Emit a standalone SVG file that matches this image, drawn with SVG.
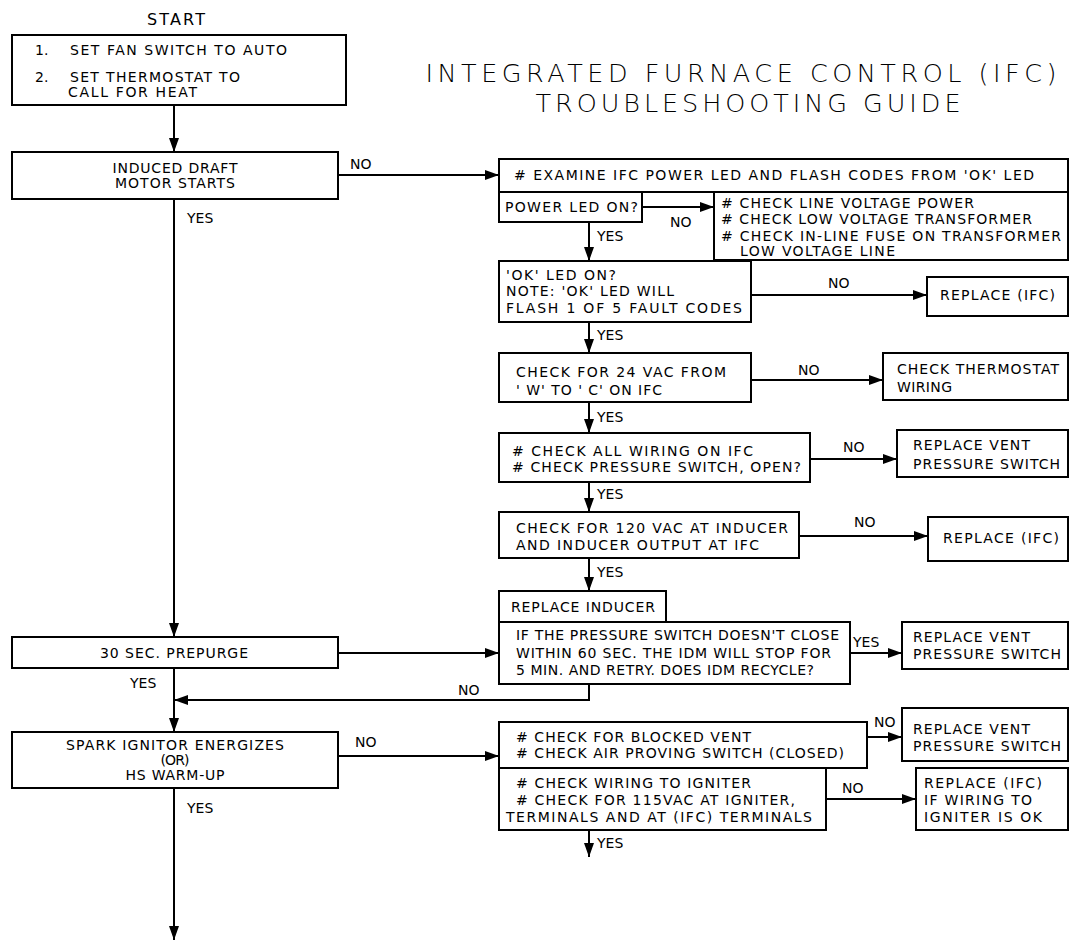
<svg xmlns="http://www.w3.org/2000/svg" width="1074" height="942" viewBox="0 0 1074 942">
<style>
rect.b{fill:#fff;stroke:#000;stroke-width:2}
.c{fill:none;stroke:#000;stroke-width:2}
text{font-family:"DejaVu Sans","Liberation Sans",sans-serif;font-size:14px;fill:#000}
text.m{text-anchor:middle}
text.t{font-size:25.5px;font-weight:200;text-anchor:middle}
text.s{font-size:16px}
</style>
<defs>
<marker id="ah" markerUnits="userSpaceOnUse" markerWidth="14" markerHeight="10" refX="14" refY="5" orient="auto">
<path d="M0,0 L14,5 L0,10 Z" fill="#000"/>
</marker>
</defs>
<rect width="1074" height="942" fill="#fff"/>
<g id="title">
<text class="t" x="741" y="82" textLength="631" lengthAdjust="spacing">INTEGRATED FURNACE CONTROL (IFC)</text>
<text class="t" x="748" y="112" textLength="425" lengthAdjust="spacing">TROUBLESHOOTING GUIDE</text>
</g>
<g id="connectors">
<path class="c" d="M174,106 V152" marker-end="url(#ah)"/>
<path class="c" d="M338,175 H499" marker-end="url(#ah)"/>
<path class="c" d="M174,199 V637" marker-end="url(#ah)"/>
<path class="c" d="M642,207 H714" marker-end="url(#ah)"/>
<path class="c" d="M589,222 V261" marker-end="url(#ah)"/>
<path class="c" d="M751,295 H927" marker-end="url(#ah)"/>
<path class="c" d="M589,322 V353" marker-end="url(#ah)"/>
<path class="c" d="M751,380 H883" marker-end="url(#ah)"/>
<path class="c" d="M589,402 V433" marker-end="url(#ah)"/>
<path class="c" d="M810,459 H897" marker-end="url(#ah)"/>
<path class="c" d="M589,482 V512" marker-end="url(#ah)"/>
<path class="c" d="M799,536 H928" marker-end="url(#ah)"/>
<path class="c" d="M589,558 V591" marker-end="url(#ah)"/>
<path class="c" d="M338,653 H499" marker-end="url(#ah)"/>
<path class="c" d="M850,653 H902" marker-end="url(#ah)"/>
<path class="c" d="M589,684 V700 H174" marker-end="url(#ah)"/>
<path class="c" d="M174,668 V732" marker-end="url(#ah)"/>
<path class="c" d="M338,756 H499" marker-end="url(#ah)"/>
<path class="c" d="M867,737 H902" marker-end="url(#ah)"/>
<path class="c" d="M826,799 H916" marker-end="url(#ah)"/>
<path class="c" d="M589,830 V857" marker-end="url(#ah)"/>
<path class="c" d="M174,788 V940" marker-end="url(#ah)"/>
<text x="350" y="169">NO</text>
<text x="187" y="223">YES</text>
<text x="670" y="227">NO</text>
<text x="597" y="241">YES</text>
<text x="828" y="288">NO</text>
<text x="597" y="340">YES</text>
<text x="798" y="375">NO</text>
<text x="597" y="422">YES</text>
<text x="843" y="452">NO</text>
<text x="597" y="499">YES</text>
<text x="854" y="527">NO</text>
<text x="597" y="577">YES</text>
<text x="853" y="647">YES</text>
<text x="130" y="688">YES</text>
<text x="458" y="695">NO</text>
<text x="355" y="747">NO</text>
<text x="874" y="727">NO</text>
<text x="842" y="793">NO</text>
<text x="187" y="813">YES</text>
<text x="597" y="848">YES</text>
</g>
<g id="start">
<text class="s m" x="176" y="25" textLength="58" lengthAdjust="spacing">START</text>
</g>
<g id="setup">
<rect class="b" x="12" y="35" width="334" height="70"/>
<text x="35" y="55">1.</text>
<text x="70" y="55" textLength="217" lengthAdjust="spacing">SET FAN SWITCH TO AUTO</text>
<text x="35" y="82">2.</text>
<text x="70" y="82" textLength="170" lengthAdjust="spacing">SET THERMOSTAT TO</text>
<text x="68" y="97" textLength="129" lengthAdjust="spacing">CALL FOR HEAT</text>
</g>
<g id="idm">
<rect class="b" x="12" y="152" width="326" height="47"/>
<text class="m" x="175" y="173" textLength="125" lengthAdjust="spacing">INDUCED DRAFT</text>
<text class="m" x="175" y="188" textLength="120" lengthAdjust="spacing">MOTOR STARTS</text>
</g>
<g id="examine">
<rect class="b" x="499" y="159" width="569" height="33"/>
<text x="514" y="180" textLength="520" lengthAdjust="spacing"># EXAMINE IFC POWER LED AND FLASH CODES FROM 'OK' LED</text>
</g>
<g id="powerled">
<rect class="b" x="499" y="192" width="143" height="30"/>
<text x="505" y="212" textLength="133" lengthAdjust="spacing">POWER LED ON?</text>
</g>
<g id="checkline">
<rect class="b" x="714" y="192" width="354" height="68"/>
<text x="721" y="208" textLength="253" lengthAdjust="spacing"># CHECK LINE VOLTAGE POWER</text>
<text x="721" y="224" textLength="311" lengthAdjust="spacing"># CHECK LOW VOLTAGE TRANSFORMER</text>
<text x="721" y="241" textLength="340" lengthAdjust="spacing"># CHECK IN-LINE FUSE ON TRANSFORMER</text>
<text x="740" y="256" textLength="155" lengthAdjust="spacing">LOW VOLTAGE LINE</text>
</g>
<g id="okled">
<rect class="b" x="499" y="261" width="252" height="61"/>
<text x="506" y="280" textLength="110" lengthAdjust="spacing">'OK' LED ON?</text>
<text x="506" y="296" textLength="168" lengthAdjust="spacing">NOTE: 'OK' LED WILL</text>
<text x="506" y="313" textLength="236" lengthAdjust="spacing">FLASH 1 OF 5 FAULT CODES</text>
</g>
<g id="replace1">
<rect class="b" x="927" y="277" width="141" height="39"/>
<text x="940" y="300" textLength="115" lengthAdjust="spacing">REPLACE (IFC)</text>
</g>
<g id="vac24">
<rect class="b" x="499" y="353" width="252" height="49"/>
<text x="516" y="377" textLength="210" lengthAdjust="spacing">CHECK FOR 24 VAC FROM</text>
<text x="516" y="395" textLength="146" lengthAdjust="spacing">' W' TO ' C' ON IFC</text>
</g>
<g id="tstat">
<rect class="b" x="883" y="353" width="185" height="47"/>
<text x="897" y="374" textLength="162" lengthAdjust="spacing">CHECK THERMOSTAT</text>
<text x="897" y="392" textLength="55" lengthAdjust="spacing">WIRING</text>
</g>
<g id="wiring">
<rect class="b" x="499" y="433" width="311" height="49"/>
<text x="512" y="456" textLength="241" lengthAdjust="spacing"># CHECK ALL WIRING ON IFC</text>
<text x="512" y="472" textLength="289" lengthAdjust="spacing"># CHECK PRESSURE SWITCH, OPEN?</text>
</g>
<g id="vent1">
<rect class="b" x="897" y="430" width="171" height="47"/>
<text x="913" y="450" textLength="117" lengthAdjust="spacing">REPLACE VENT</text>
<text x="913" y="469" textLength="147" lengthAdjust="spacing">PRESSURE SWITCH</text>
</g>
<g id="vac120">
<rect class="b" x="499" y="512" width="300" height="46"/>
<text x="516" y="533" textLength="272" lengthAdjust="spacing">CHECK FOR 120 VAC AT INDUCER</text>
<text x="516" y="550" textLength="243" lengthAdjust="spacing">AND INDUCER OUTPUT AT IFC</text>
</g>
<g id="replace2">
<rect class="b" x="928" y="517" width="140" height="44"/>
<text x="943" y="543" textLength="116" lengthAdjust="spacing">REPLACE (IFC)</text>
</g>
<g id="inducer">
<rect class="b" x="499" y="591" width="167" height="31"/>
<text x="511" y="612" textLength="144" lengthAdjust="spacing">REPLACE INDUCER</text>
</g>
<g id="pswitch">
<rect class="b" x="499" y="622" width="351" height="62"/>
<text x="516" y="640" textLength="323" lengthAdjust="spacing">IF THE PRESSURE SWITCH DOESN'T CLOSE</text>
<text x="516" y="658" textLength="315" lengthAdjust="spacing">WITHIN 60 SEC. THE IDM WILL STOP FOR</text>
<text x="516" y="675" textLength="298" lengthAdjust="spacing">5 MIN. AND RETRY. DOES IDM RECYCLE?</text>
</g>
<g id="vent2">
<rect class="b" x="902" y="622" width="166" height="47"/>
<text x="913" y="642" textLength="117" lengthAdjust="spacing">REPLACE VENT</text>
<text x="913" y="659" textLength="148" lengthAdjust="spacing">PRESSURE SWITCH</text>
</g>
<g id="prepurge">
<rect class="b" x="12" y="637" width="326" height="31"/>
<text x="100" y="658" textLength="148" lengthAdjust="spacing">30 SEC. PREPURGE</text>
</g>
<g id="spark">
<rect class="b" x="12" y="732" width="326" height="56"/>
<text class="m" x="175" y="750" textLength="218" lengthAdjust="spacing">SPARK IGNITOR ENERGIZES</text>
<text class="m" x="175" y="765" textLength="29" lengthAdjust="spacing">(OR)</text>
<text class="m" x="175" y="780" textLength="99" lengthAdjust="spacing">HS WARM-UP</text>
</g>
<g id="blocked">
<rect class="b" x="499" y="722" width="368" height="46"/>
<text x="516" y="742" textLength="235" lengthAdjust="spacing"># CHECK FOR BLOCKED VENT</text>
<text x="516" y="758" textLength="328" lengthAdjust="spacing"># CHECK AIR PROVING SWITCH (CLOSED)</text>
</g>
<g id="vent3">
<rect class="b" x="902" y="708" width="166" height="53"/>
<text x="913" y="734" textLength="117" lengthAdjust="spacing">REPLACE VENT</text>
<text x="913" y="751" textLength="148" lengthAdjust="spacing">PRESSURE SWITCH</text>
</g>
<g id="igniter">
<rect class="b" x="499" y="768" width="327" height="62"/>
<text x="516" y="788" textLength="235" lengthAdjust="spacing"># CHECK WIRING TO IGNITER</text>
<text x="516" y="805" textLength="279" lengthAdjust="spacing"># CHECK FOR 115VAC AT IGNITER,</text>
<text x="506" y="822" textLength="306" lengthAdjust="spacing">TERMINALS AND AT (IFC) TERMINALS</text>
</g>
<g id="replace3">
<rect class="b" x="916" y="768" width="152" height="62"/>
<text x="924" y="788" textLength="118" lengthAdjust="spacing">REPLACE (IFC)</text>
<text x="924" y="805" textLength="108" lengthAdjust="spacing">IF WIRING TO</text>
<text x="924" y="822" textLength="118" lengthAdjust="spacing">IGNITER IS OK</text>
</g>
</svg>
